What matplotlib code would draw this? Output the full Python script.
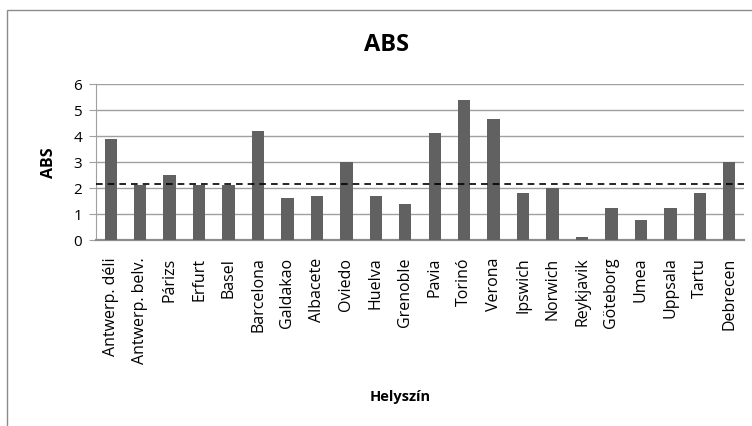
import matplotlib
matplotlib.use("Agg")
import matplotlib.pyplot as plt
from matplotlib.patches import Rectangle

# ---- data ----
locations = ["Antwerp. déli", "Antwerp. belv.", "Párizs", "Erfurt", "Basel",
             "Barcelona", "Galdakao", "Albacete", "Oviedo", "Huelva",
             "Grenoble", "Pavia", "Torinó", "Verona", "Ipswich", "Norwich",
             "Reykjavik", "Göteborg", "Umea", "Uppsala", "Tartu", "Debrecen"]
abs_values = [3.9, 2.1, 2.5, 2.1, 2.1, 4.2, 1.6, 1.7, 3.0, 1.7,
              1.37, 4.1, 5.37, 4.65, 1.8, 2.0, 0.12, 1.22, 0.78, 1.22,
              1.8, 3.0]
mean_line = 2.15
yticks = [0, 1, 2, 3, 4, 5, 6]

BAR_COLOR = "#616161"
GRID_COLOR = "#a0a0a0"

plt.rcParams["font.family"] = ["Open Sans", "DejaVu Sans"]

fig = plt.figure(figsize=(7.52, 4.27), dpi=100)
# outer chart frame (runs off the right/bottom edge like the source)
fig.patches.append(Rectangle((7 / 752, -0.1), 1.2, 1 - 11 / 427 + 0.1,
                             transform=fig.transFigure, fill=False,
                             edgecolor="#8c8c8c", linewidth=1.0))

ax = fig.add_axes([96 / 752, 1 - 241 / 427, 648 / 752, 156 / 427])
x = range(len(locations))
ax.bar(x, abs_values, width=0.42, color=BAR_COLOR, zorder=3)
ax.axhline(mean_line, color="black", linestyle=(0, (4, 3)), linewidth=1.2, zorder=4)

ax.set_xlim(-0.5, len(locations) - 0.5)
ax.set_ylim(0, 6)
ax.set_yticks(yticks)
ax.yaxis.grid(True, color=GRID_COLOR, linewidth=1.0, zorder=0)
ax.set_xticks(list(x))
ax.set_xticklabels(locations, rotation=90, fontsize=11.5)
ax.tick_params(axis="x", length=0, pad=12)
ax.tick_params(axis="y", length=5, color=GRID_COLOR, labelsize=11, pad=5)
for s in ("top", "right"):
    ax.spines[s].set_visible(False)
ax.spines["left"].set_color(GRID_COLOR)
ax.spines["bottom"].set_color("#8c8c8c")
ax.spines["bottom"].set_linewidth(1.6)

ax.set_ylabel("ABS", fontsize=11.5, fontweight="bold", labelpad=12)
fig.text(386 / 752, 1 - 45 / 427, "ABS", fontsize=17, fontweight="bold",
         ha="center", va="center")
fig.text(400 / 752, 1 - 397 / 427, "Helyszín", fontsize=10.5, fontweight="bold",
         ha="center", va="center")

fig.savefig("out.png", dpi=100)
